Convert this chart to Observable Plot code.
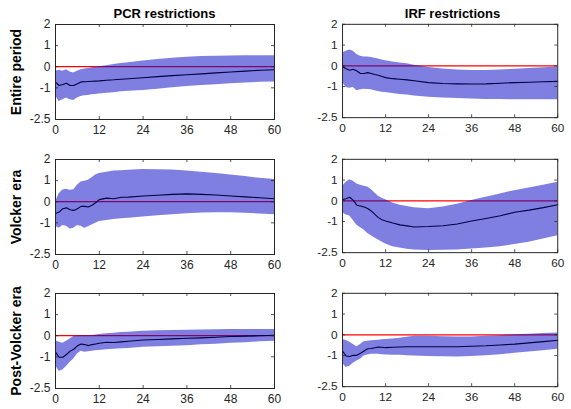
<!DOCTYPE html>
<html><head><meta charset="utf-8">
<script src="https://cdn.jsdelivr.net/npm/d3@7"></script>
<script src="https://cdn.jsdelivr.net/npm/@observablehq/plot@0.6"></script>
<style>
body{margin:0;background:#fff;}
#chart{position:relative;width:571px;height:409px;font-family:"Liberation Sans",Arial,Helvetica,sans-serif;background:#fff;}
#chart svg text{font-family:"Liberation Sans",Arial,Helvetica,sans-serif !important;font-size:12px !important;}
.pane{position:absolute;}
.title{position:absolute;font-weight:bold;font-size:13px;line-height:15px;color:#000;white-space:nowrap;transform:translateX(-50%);}
.rowlab{position:absolute;font-weight:bold;font-size:14px;line-height:16px;color:#000;white-space:nowrap;transform:translate(-50%,-50%) rotate(-90deg);}
</style></head><body><div id="chart"></div>
<script>
// ---------- data ----------
const columns = ["PCR restrictions", "IRF restrictions"];
const rows = ["Entire period", "Volcker era", "Post-Volcker era"];
const xTicks = [0, 12, 24, 36, 48, 60];
const yTicks = [-2.5, -1, 0, 1, 2];
const horizons = [0,1,2,3,4,5,6,7,8,9,10,11,12,14,16,18,20,24,28,32,36,40,44,48,52,56,60];

// PCR restrictions, Entire period
const pcrEntireMid = [-0.73,-0.89,-0.84,-0.78,-0.89,-0.89,-0.81,-0.72,-0.71,-0.70,-0.69,-0.68,-0.67,-0.64,-0.62,-0.59,-0.57,-0.52,-0.47,-0.42,-0.38,-0.34,-0.29,-0.25,-0.21,-0.17,-0.14];
const pcrEntireUp  = [-0.22,-0.17,-0.21,-0.14,-0.25,-0.30,-0.21,-0.14,-0.11,-0.08,-0.05,-0.02,0.00,0.05,0.10,0.15,0.19,0.27,0.34,0.40,0.45,0.48,0.50,0.51,0.52,0.52,0.52];
const pcrEntireLo  = [-1.37,-1.65,-1.57,-1.48,-1.57,-1.60,-1.48,-1.41,-1.38,-1.36,-1.33,-1.31,-1.29,-1.26,-1.23,-1.19,-1.16,-1.13,-1.07,-1.00,-0.94,-0.89,-0.85,-0.81,-0.77,-0.74,-0.72];
// IRF restrictions, Entire period
const irfEntireMid = [-0.03,-0.14,-0.21,-0.17,-0.25,-0.37,-0.37,-0.33,-0.37,-0.42,-0.46,-0.52,-0.57,-0.62,-0.65,-0.68,-0.72,-0.81,-0.85,-0.87,-0.88,-0.87,-0.84,-0.81,-0.79,-0.77,-0.75];
const irfEntireUp  = [0.62,0.70,0.76,0.70,0.54,0.46,0.43,0.42,0.40,0.37,0.33,0.28,0.24,0.18,0.14,0.10,0.03,-0.08,-0.15,-0.20,-0.22,-0.22,-0.20,-0.17,-0.13,-0.09,-0.06];
const irfEntireLo  = [-0.81,-1.05,-1.08,-1.05,-1.20,-1.16,-1.13,-1.14,-1.16,-1.20,-1.24,-1.27,-1.29,-1.34,-1.38,-1.41,-1.45,-1.51,-1.55,-1.58,-1.60,-1.62,-1.63,-1.64,-1.64,-1.64,-1.64];
// PCR restrictions, Volcker era
const pcrVolckerMid = [-0.56,-0.49,-0.33,-0.29,-0.38,-0.41,-0.33,-0.22,-0.22,-0.25,-0.17,-0.05,0.10,0.17,0.14,0.21,0.22,0.27,0.31,0.35,0.37,0.35,0.32,0.27,0.23,0.19,0.14];
const pcrVolckerUp  = [0.00,0.38,0.56,0.59,0.54,0.57,0.78,0.94,0.97,1.02,1.13,1.26,1.34,1.40,1.45,1.47,1.49,1.53,1.52,1.50,1.45,1.40,1.34,1.26,1.19,1.11,1.05];
const pcrVolckerLo  = [-1.16,-1.26,-1.13,-1.16,-1.29,-1.26,-1.13,-1.16,-1.26,-1.19,-1.10,-1.02,-0.94,-0.89,-0.84,-0.81,-0.78,-0.72,-0.67,-0.62,-0.57,-0.54,-0.52,-0.52,-0.55,-0.58,-0.62];
// IRF restrictions, Volcker era
const irfVolckerMid = [0.06,0.10,0.17,0.02,-0.21,-0.25,-0.30,-0.37,-0.49,-0.65,-0.81,-0.91,-0.97,-1.07,-1.16,-1.21,-1.26,-1.24,-1.20,-1.12,-0.97,-0.85,-0.72,-0.55,-0.45,-0.33,-0.19];
const irfVolckerUp  = [0.70,0.90,1.02,0.94,0.81,0.75,0.70,0.66,0.55,0.38,0.22,0.12,0.05,-0.10,-0.21,-0.28,-0.33,-0.38,-0.30,-0.17,0.02,0.17,0.33,0.49,0.62,0.75,0.90];
const irfVolckerLo  = [-0.57,-0.68,-0.73,-0.95,-1.18,-1.30,-1.41,-1.57,-1.68,-1.79,-1.89,-1.99,-2.08,-2.21,-2.27,-2.33,-2.37,-2.40,-2.38,-2.37,-2.32,-2.27,-2.21,-2.11,-2.00,-1.84,-1.68];
// PCR restrictions, Post-Volcker era
const pcrPostMid = [-0.78,-1.02,-1.02,-0.89,-0.73,-0.64,-0.48,-0.39,-0.42,-0.47,-0.42,-0.39,-0.36,-0.31,-0.32,-0.29,-0.26,-0.20,-0.18,-0.15,-0.12,-0.10,-0.07,-0.04,-0.02,0.00,0.02];
const pcrPostUp  = [-0.23,-0.31,-0.36,-0.26,-0.15,-0.04,-0.01,0.00,0.00,0.00,0.00,0.03,0.06,0.09,0.12,0.15,0.17,0.21,0.23,0.25,0.26,0.27,0.28,0.29,0.29,0.29,0.29];
const pcrPostLo  = [-1.41,-1.68,-1.62,-1.46,-1.26,-1.10,-0.86,-0.73,-0.78,-0.76,-0.73,-0.71,-0.70,-0.67,-0.64,-0.62,-0.61,-0.55,-0.52,-0.50,-0.47,-0.43,-0.40,-0.36,-0.33,-0.29,-0.26];
// IRF restrictions, Post-Volcker era
const irfPostMid = [-0.78,-1.02,-1.05,-0.99,-0.99,-0.89,-0.78,-0.67,-0.66,-0.62,-0.59,-0.60,-0.62,-0.60,-0.59,-0.58,-0.58,-0.58,-0.58,-0.58,-0.55,-0.53,-0.49,-0.45,-0.39,-0.33,-0.26];
const irfPostUp  = [-0.23,-0.28,-0.36,-0.47,-0.58,-0.47,-0.34,-0.31,-0.29,-0.27,-0.26,-0.24,-0.23,-0.20,-0.17,-0.12,-0.07,-0.07,-0.09,-0.10,-0.10,-0.07,-0.04,0.00,0.03,0.06,0.09];
const irfPostLo  = [-1.37,-1.57,-1.52,-1.37,-1.26,-1.18,-1.02,-0.97,-0.94,-0.94,-0.94,-0.96,-0.97,-0.98,-0.99,-1.01,-1.02,-1.05,-1.06,-1.07,-1.05,-1.01,-0.96,-0.89,-0.83,-0.77,-0.70];

// ---------- layout ----------
const panels = [
  [[pcrEntireMid, pcrEntireUp, pcrEntireLo], [irfEntireMid, irfEntireUp, irfEntireLo]],
  [[pcrVolckerMid, pcrVolckerUp, pcrVolckerLo], [irfVolckerMid, irfVolckerUp, irfVolckerLo]],
  [[pcrPostMid, pcrPostUp, pcrPostLo], [irfPostMid, irfPostUp, irfPostLo]]
];
const colX = [55, 343];
const rowY = [24, 159, 293];
const frameW = 219, frameH = 95;
const ml = 55, mr = 14, mt = 10, mb = 24;
const axisColor = "#262626";
const chart = document.getElementById("chart");

panels.forEach((rowPanels, r) => {
  rowPanels.forEach(([mid, up, lo], c) => {
    const data = horizons.map((h, i) => ({h, mid: mid[i], up: up[i], lo: lo[i]}));
    const fig = Plot.plot({
      width: frameW + ml + mr,
      height: frameH + mt + mb,
      marginLeft: ml, marginRight: mr, marginTop: mt, marginBottom: mb,
      style: "font-family: 'Liberation Sans', Arial, Helvetica, sans-serif; font-size: 12px; color: #262626; background: transparent; overflow: visible;",
      x: {domain: [0, 60], label: null},
      y: {domain: [-2.5, 2], label: null},
      marks: [
        Plot.ruleY([0], {stroke: "#ff0000", strokeWidth: 1.2}),
        Plot.areaY(data, {x: "h", y1: "lo", y2: "up", fill: "rgb(10,10,200)", fillOpacity: 0.52}),
        Plot.lineY(data, {x: "h", y: "mid", stroke: "#000040", strokeWidth: 1.1}),
        Plot.ruleX(xTicks, {x: d => d, insetTop: frameH - 3, stroke: axisColor, strokeWidth: 0.8}),
        Plot.ruleX(xTicks, {x: d => d, insetBottom: frameH - 3, stroke: axisColor, strokeWidth: 0.8}),
        Plot.ruleY(yTicks, {y: d => d, insetRight: frameW - 3, stroke: axisColor, strokeWidth: 0.8}),
        Plot.ruleY(yTicks, {y: d => d, insetLeft: frameW - 3, stroke: axisColor, strokeWidth: 0.8}),
        Plot.frame({stroke: axisColor, strokeWidth: 1}),
        Plot.axisX({ticks: xTicks, tickSize: 0, tickPadding: 6, tickFormat: d => String(d), fill: axisColor}),
        Plot.axisY({ticks: yTicks, tickSize: 0, tickPadding: 5, tickFormat: d => String(d), fill: axisColor})
      ]
    });
    const wrap = document.createElement("div");
    wrap.className = "pane";
    wrap.style.left = (colX[c] - ml) + "px";
    wrap.style.top = (rowY[r] - mt) + "px";
    wrap.appendChild(fig);
    chart.appendChild(wrap);
  });
});

columns.forEach((t, c) => {
  const d = document.createElement("div");
  d.className = "title";
  d.textContent = t;
  d.style.left = (colX[c] + frameW / 2) + "px";
  d.style.top = "6px";
  chart.appendChild(d);
});
rows.forEach((t, r) => {
  const d = document.createElement("div");
  d.className = "rowlab";
  d.textContent = t;
  d.style.left = "15.5px";
  d.style.top = (rowY[r] + frameH / 2) + "px";
  chart.appendChild(d);
});
</script></body></html>
